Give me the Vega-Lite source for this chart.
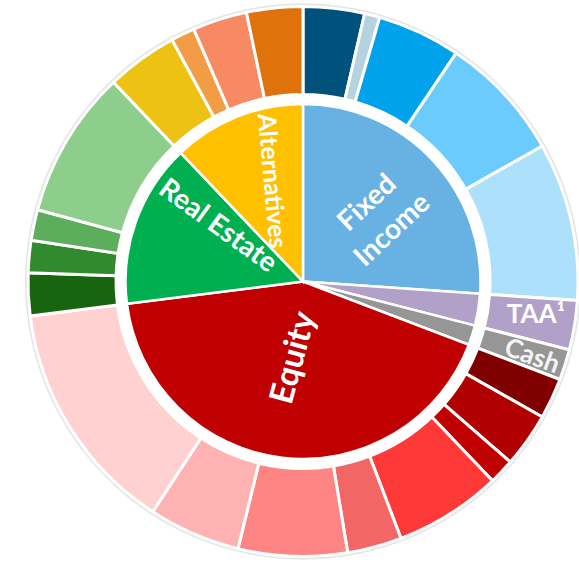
{
  "$schema": "https://vega.github.io/schema/vega-lite/v6.json",
  "width": 552,
  "height": 563,
  "autosize": "none",
  "padding": {"left": 27, "top": 0, "right": 0, "bottom": 0},
  "background": "white",
  "config": {"view": {"stroke": null}},
  "datasets": {
    "ring": [{"seg": "Ring", "pct": 100, "idx": 1}],
    "inner": [
      {"seg": "Fixed Income", "pct": 26.1, "idx": 1},
      {"seg": "TAA", "pct": 2.9, "idx": 2},
      {"seg": "Cash", "pct": 1.8, "idx": 3},
      {"seg": "Equity", "pct": 42.2, "idx": 4},
      {"seg": "Real Estate", "pct": 14.9, "idx": 5},
      {"seg": "Alternatives", "pct": 12.1, "idx": 6}
    ],
    "outer": [
      {"seg": "Fixed Income 1", "label": "", "pct": 3.6, "idx": 1},
      {"seg": "Fixed Income 2", "label": "", "pct": 0.9, "idx": 2},
      {"seg": "Fixed Income 3", "label": "", "pct": 4.9, "idx": 3},
      {"seg": "Fixed Income 4", "label": "", "pct": 7.4, "idx": 4},
      {"seg": "Fixed Income 5", "label": "", "pct": 9.3, "idx": 5},
      {"seg": "TAA outer", "label": "TAA¹", "pct": 2.9, "idx": 6},
      {"seg": "Cash outer", "label": "Cash", "pct": 1.8, "idx": 7},
      {"seg": "Equity 1", "label": "", "pct": 2.4, "idx": 8},
      {"seg": "Equity 2", "label": "", "pct": 3.2, "idx": 9},
      {"seg": "Equity 3", "label": "", "pct": 1.5, "idx": 10},
      {"seg": "Equity 4", "label": "", "pct": 6.3, "idx": 11},
      {"seg": "Equity 5", "label": "", "pct": 3.2, "idx": 12},
      {"seg": "Equity 6", "label": "", "pct": 6.4, "idx": 13},
      {"seg": "Equity 7", "label": "", "pct": 5.4, "idx": 14},
      {"seg": "Equity 8", "label": "", "pct": 13.8, "idx": 15},
      {"seg": "Real Estate 1", "label": "", "pct": 2.5, "idx": 16},
      {"seg": "Real Estate 2", "label": "", "pct": 1.9, "idx": 17},
      {"seg": "Real Estate 3", "label": "", "pct": 1.8, "idx": 18},
      {"seg": "Real Estate 4", "label": "", "pct": 8.7, "idx": 19},
      {"seg": "Alternatives 1", "label": "", "pct": 4.2, "idx": 20},
      {"seg": "Alternatives 2", "label": "", "pct": 1.4, "idx": 21},
      {"seg": "Alternatives 3", "label": "", "pct": 3.2, "idx": 22},
      {"seg": "Alternatives 4", "label": "", "pct": 3.3, "idx": 23}
    ]
  },
  "layer": [
    {
      "data": {"name": "ring"},
      "mark": {"type": "arc", "radius": 278, "radius2": 270, "fill": "#c4c4c4", "opacity": 0.45},
      "encoding": {
        "theta": {"field": "pct", "type": "quantitative", "stack": true}
      }
    },
    {
      "data": {"name": "outer"},
      "mark": {"type": "arc", "radius": 275, "radius2": 187, "stroke": "white", "strokeWidth": 3},
      "encoding": {
        "theta": {"field": "pct", "type": "quantitative", "stack": true},
        "order": {"field": "idx", "type": "quantitative"},
        "color": {
          "field": "seg", "type": "nominal", "legend": null,
          "scale": {
            "domain": ["Fixed Income", "TAA", "Cash", "Equity", "Real Estate", "Alternatives",
              "Fixed Income 1", "Fixed Income 2", "Fixed Income 3", "Fixed Income 4", "Fixed Income 5",
              "TAA outer", "Cash outer",
              "Equity 1", "Equity 2", "Equity 3", "Equity 4", "Equity 5", "Equity 6", "Equity 7", "Equity 8",
              "Real Estate 1", "Real Estate 2", "Real Estate 3", "Real Estate 4",
              "Alternatives 1", "Alternatives 2", "Alternatives 3", "Alternatives 4"],
            "range": ["#67b2e2", "#b1a0c7", "#969696", "#c00000", "#00b050", "#ffc000",
              "#00527c", "#b5d3df", "#00a2eb", "#6bcbfc", "#ade1fb",
              "#b1a0c7", "#969696",
              "#800000", "#b00000", "#c00000", "#ff3838", "#f26666", "#ff8585", "#ffb2b2", "#ffd1d1",
              "#17650f", "#328a2e", "#5cad5c", "#8ece8c",
              "#eec213", "#f29c46", "#f78a62", "#e0720c"]
          }
        }
      }
    },
    {
      "data": {"name": "inner"},
      "mark": {"type": "arc", "radius": 177.5, "stroke": "white", "strokeWidth": 2.5},
      "encoding": {
        "theta": {"field": "pct", "type": "quantitative", "stack": true},
        "order": {"field": "idx", "type": "quantitative"},
        "color": {
          "field": "seg", "type": "nominal", "legend": null,
          "scale": {
            "domain": ["Fixed Income", "TAA", "Cash", "Equity", "Real Estate", "Alternatives",
              "Fixed Income 1", "Fixed Income 2", "Fixed Income 3", "Fixed Income 4", "Fixed Income 5",
              "TAA outer", "Cash outer",
              "Equity 1", "Equity 2", "Equity 3", "Equity 4", "Equity 5", "Equity 6", "Equity 7", "Equity 8",
              "Real Estate 1", "Real Estate 2", "Real Estate 3", "Real Estate 4",
              "Alternatives 1", "Alternatives 2", "Alternatives 3", "Alternatives 4"],
            "range": ["#67b2e2", "#b1a0c7", "#969696", "#c00000", "#00b050", "#ffc000",
              "#00527c", "#b5d3df", "#00a2eb", "#6bcbfc", "#ade1fb",
              "#b1a0c7", "#969696",
              "#800000", "#b00000", "#c00000", "#ff3838", "#f26666", "#ff8585", "#ffb2b2", "#ffd1d1",
              "#17650f", "#328a2e", "#5cad5c", "#8ece8c",
              "#eec213", "#f29c46", "#f78a62", "#e0720c"]
          }
        }
      }
    },
    {
      "data": {"name": "inner"},
      "mark": {"type": "text", "radius": 101.4, "angle": -43, "dx": -1, "dy": -13, "lineBreak": " ", "lineHeight": 37,
        "font": "Lato", "fontWeight": "bold", "fontSize": 28, "fill": "white", "align": "center", "baseline": "middle"},
      "encoding": {
        "theta": {"field": "pct", "type": "quantitative", "stack": true},
        "order": {"field": "idx", "type": "quantitative"},
        "text": {"condition": {"test": "datum.seg === 'Fixed Income'", "field": "seg", "type": "nominal"}, "value": ""}
      }
    },
    {
      "data": {"name": "inner"},
      "mark": {"type": "text", "radius": 77, "angle": -75,
        "font": "Lato", "fontWeight": "bold", "fontSize": 33, "fill": "white", "align": "center", "baseline": "middle"},
      "encoding": {
        "theta": {"field": "pct", "type": "quantitative", "stack": true},
        "order": {"field": "idx", "type": "quantitative"},
        "text": {"condition": {"test": "datum.seg === 'Equity'", "field": "seg", "type": "nominal"}, "value": ""}
      }
    },
    {
      "data": {"name": "inner"},
      "mark": {"type": "text", "radius": 101.6, "angle": 36, "dx": -4, "dy": -23,
        "font": "Lato", "fontWeight": "bold", "fontSize": 28, "fill": "white", "align": "center", "baseline": "middle"},
      "encoding": {
        "theta": {"field": "pct", "type": "quantitative", "stack": true},
        "order": {"field": "idx", "type": "quantitative"},
        "text": {"condition": {"test": "datum.seg === 'Real Estate'", "field": "seg", "type": "nominal"}, "value": ""}
      }
    },
    {
      "data": {"name": "inner"},
      "mark": {"type": "text", "radius": 105.4, "angle": 85, "dx": -2, "dy": -8,
        "font": "Lato", "fontWeight": "bold", "fontSize": 25, "fill": "white", "align": "center", "baseline": "middle"},
      "encoding": {
        "theta": {"field": "pct", "type": "quantitative", "stack": true},
        "order": {"field": "idx", "type": "quantitative"},
        "text": {"condition": {"test": "datum.seg === 'Alternatives'", "field": "seg", "type": "nominal"}, "value": ""}
      }
    },
    {
      "data": {"name": "outer"},
      "mark": {"type": "text", "radius": 234, "angle": 0, "dx": 2, "dy": -4,
        "font": "Lato", "fontWeight": "bold", "fontSize": 26, "fill": "white", "align": "center", "baseline": "middle"},
      "encoding": {
        "theta": {"field": "pct", "type": "quantitative", "stack": true},
        "order": {"field": "idx", "type": "quantitative"},
        "text": {"condition": {"test": "datum.label === 'TAA¹'", "field": "label", "type": "nominal"}, "value": ""}
      }
    },
    {
      "data": {"name": "outer"},
      "mark": {"type": "text", "radius": 240, "angle": 20, "dx": 1, "dy": 2,
        "font": "Lato", "fontWeight": "bold", "fontSize": 26, "fill": "#f4f4f4", "align": "center", "baseline": "middle"},
      "encoding": {
        "theta": {"field": "pct", "type": "quantitative", "stack": true},
        "order": {"field": "idx", "type": "quantitative"},
        "text": {"condition": {"test": "datum.label === 'Cash'", "field": "label", "type": "nominal"}, "value": ""}
      }
    }
  ]
}
